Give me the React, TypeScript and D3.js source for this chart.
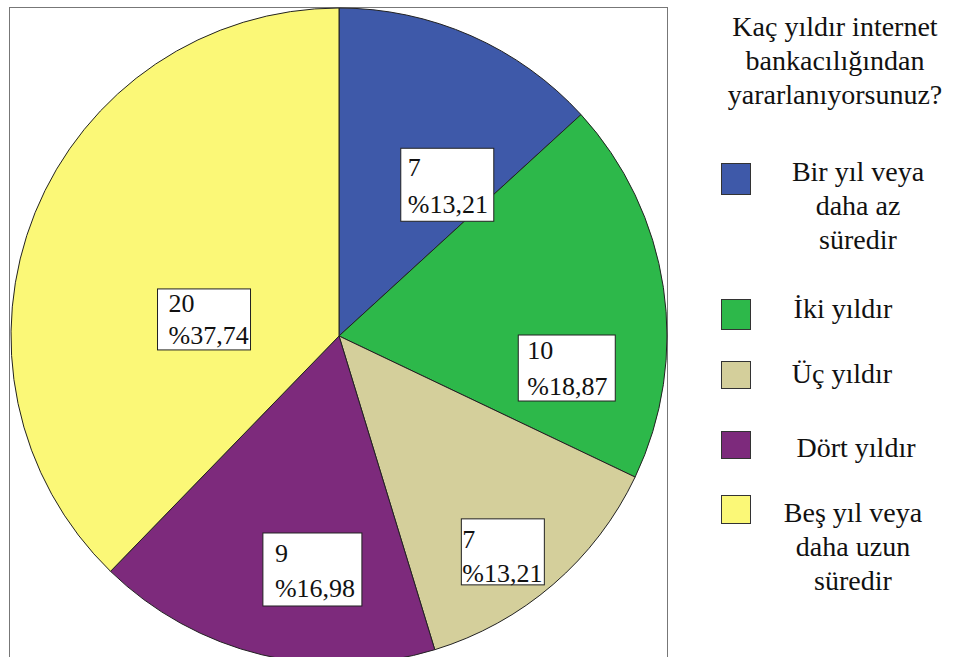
import React from "react";
import * as d3 from "d3";

const categories = [
  "Bir yıl veya daha az süredir",
  "İki yıldır",
  "Üç yıldır",
  "Dört yıldır",
  "Beş yıl veya daha uzun süredir",
];
const counts = [7, 10, 7, 9, 20];
const percentLabels = ["%13,21", "%18,87", "%13,21", "%16,98", "%37,74"];
const legendLines = [
  ["Bir yıl veya", "daha az", "süredir"],
  ["İki yıldır"],
  ["Üç yıldır"],
  ["Dört yıldır"],
  ["Beş yıl veya", "daha uzun", "süredir"],
];
const titleLines = ["Kaç yıldır internet", "bankacılığından", "yararlanıyorsunuz?"];
const colors = ["#3E59A9", "#2DB84A", "#D4CF9B", "#7D2A7C", "#FBF877"];

// layout (not data)
const W = 953, H = 657;
const CX = 339, CY = 336, R = 328;
const labelLayout = [
  { ang: 35.6, dist: 186, w: 93, h: 73, pad: 7, b1: 28, b2: 65 },
  { ang: 98.0, dist: 230, w: 97, h: 66, pad: 9, b1: 24, b2: 60 },
  { ang: 142.8, dist: 271, w: 83, h: 66, pad: 1, b1: 29, b2: 63 },
  { ang: 186.5, dist: 235, w: 99, h: 73, pad: 12, b1: 29, b2: 64 },
  { ang: 277.0, dist: 136, w: 93, h: 61, pad: 11, b1: 23, b2: 55 },
];
const legendLayout = [
  { sy: 163, sh: 31, tx: 858, ty: 181 },
  { sy: 299, sh: 30, tx: 843, ty: 318 },
  { sy: 361, sh: 27, tx: 842, ty: 383 },
  { sy: 431, sh: 27, tx: 856, ty: 457 },
  { sy: 495, sh: 28, tx: 853, ty: 522 },
];

const SERIF = { fontFamily: `"Liberation Serif", monospace` };

export default function App() {
  const pie = d3.pie<number>().sort(null).value((d) => d)
    .startAngle(0).endAngle(2 * Math.PI);
  const arcs = pie(counts);
  const arcGen = d3.arc<d3.PieArcDatum<number>>().innerRadius(0).outerRadius(R);

  return (
    <svg width={W} height={H} style={{ position: "absolute", left: 0, top: 0, background: "#fff" }}>
      <rect x={9.5} y={7.5} width={658} height={720} fill="#fff" stroke="#777" strokeWidth={1} />
      {arcs.map((a, i) => (
        <path key={categories[i]} transform={`translate(${CX},${CY})`} d={arcGen(a) || ""} fill={colors[i]} stroke="#222" strokeWidth={1} />
      ))}
      {arcs.map((a, i) => {
        const L = labelLayout[i];
        const t = (L.ang * Math.PI) / 180;
        const x0 = CX + L.dist * Math.sin(t) - L.w / 2;
        const y0 = CY - L.dist * Math.cos(t) - L.h / 2;
        return (
          <React.Fragment key={"lab" + i}>
            <rect x={x0} y={y0} width={L.w} height={L.h} fill="#fff" stroke="#222" strokeWidth={1} />
            <text x={x0 + L.pad} y={y0 + L.b1} fontSize={26} fill="#111" style={SERIF}>{counts[i]}</text>
            <text x={x0 + L.pad} y={y0 + L.b2} fontSize={26} fill="#111" style={SERIF}>{percentLabels[i]}</text>
          </React.Fragment>
        );
      })}
      {titleLines.map((t, i) => (
        <text key={t} x={835} y={36 + i * 34} fontSize={28} textAnchor="middle" fill="#111" style={SERIF}>{t}</text>
      ))}
      {legendLines.map((lines, i) => {
        const L = legendLayout[i];
        return (
          <React.Fragment key={categories[i]}>
            <rect x={721.5} y={L.sy + 0.5} width={29} height={L.sh} fill={colors[i]} stroke="#333" strokeWidth={1} />
            {lines.map((ln, j) => (
              <text key={j} x={L.tx} y={L.ty + j * 34} fontSize={28} textAnchor="middle" fill="#111" style={SERIF}>{ln}</text>
            ))}
          </React.Fragment>
        );
      })}
    </svg>
  );
}
